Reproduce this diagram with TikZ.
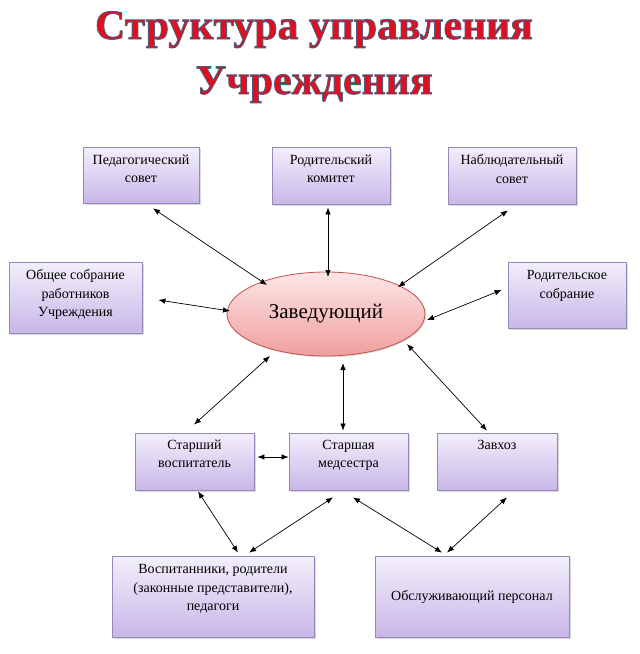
\documentclass[tikz,border=0pt]{standalone}
\usepackage{fontspec}
\setmainfont{Liberation Serif}
\usetikzlibrary{arrows.meta,shadows,shapes.geometric}
\definecolor{titred}{RGB}{226,14,30}
\definecolor{boxtop}{RGB}{243,239,251}
\definecolor{boxbot}{RGB}{200,183,232}
\definecolor{boxline}{RGB}{150,136,186}
\definecolor{elltop}{RGB}{253,230,230}
\definecolor{ellbot}{RGB}{240,158,158}
\definecolor{ellline}{RGB}{190,82,78}
\newcommand{\outlined}[1]{\special{pdf:literal direct 2 Tr 0.9 w 0.31 0.36 0.49 RG}#1\special{pdf:literal direct 0 Tr}}
\tikzset{
  box/.style={rectangle, draw=boxline, line width=0.8pt, top color=boxtop, bottom color=boxbot,
    drop shadow={shadow xshift=1.6pt, shadow yshift=-1.6pt, opacity=0.3}, inner sep=0pt},
  boss/.style={ellipse, draw=ellline, line width=0.8pt, top color=elltop, bottom color=ellbot,
    minimum width=198pt, minimum height=84pt, inner sep=0pt,
    drop shadow={shadow xshift=1.2pt, shadow yshift=-1.2pt, opacity=0.25},
    font=\fontsize{21}{24}\selectfont},
  lbl/.style={anchor=north, align=center, inner sep=0pt, font=\fontsize{14}{18.5}\selectfont},
  arr/.style={{Latex[length=7pt,width=5.5pt]}-{Latex[length=7pt,width=5.5pt]}, line width=0.7pt, black},
  ttl/.style={anchor=base, inner sep=0pt, text=titred, font=\fontsize{41.8}{48}\selectfont\bfseries}
}
\begin{document}
\begin{tikzpicture}[x=1pt,y=-1pt]
\useasboundingbox (0,0) rectangle (640,654);
% title
\node[ttl] (title1) at (314,39) {\outlined{Структура управления}};
\node[ttl] (title2) at (314,94) {\outlined{Учреждения}};

% boxes
\node[box, minimum width=116pt, minimum height=56pt] (ped)  at (141,175)   {};
\node[box, minimum width=118pt, minimum height=57pt] (rkom) at (331,175.5) {};
\node[box, minimum width=128pt, minimum height=57pt] (nabl) at (512,175.5) {};
\node[box, minimum width=133pt, minimum height=71pt] (obsh) at (75.5,297.5) {};
\node[box, minimum width=118pt, minimum height=66pt] (rsob) at (567,295)   {};
\node[boss] (zav) at (326,314) {Заведующий};
\node[box, minimum width=119pt, minimum height=57pt] (stv)  at (194.5,461.5) {};
\node[box, minimum width=119pt, minimum height=57pt] (stm)  at (348.5,461.5) {};
\node[box, minimum width=120pt, minimum height=57pt] (zavh) at (497,461.5)   {};
\node[box, minimum width=202pt, minimum height=81pt] (vosp) at (213,596.5)   {};
\node[box, minimum width=194pt, minimum height=81pt, font=\fontsize{14}{18.5}\selectfont] (obsl) at (472,596.5) {Обслуживающий персонал};

% labels
\node[lbl] (pedt)  at ([yshift=-8pt]ped.north)  {Педагогический\\совет};
\node[lbl] (rkomt) at ([yshift=-8pt]rkom.north) {Родительский\\комитет};
\node[lbl] (nablt) at ([yshift=-8pt]nabl.north) {Наблюдательный\\совет};
\node[lbl] (obsht) at ([yshift=-8pt]obsh.north) {Общее собрание\\работников\\Учреждения};
\node[lbl] (rsobt) at ([yshift=-9pt]rsob.north) {Родительское\\собрание};
\node[lbl] (stvt)  at ([yshift=-7pt]stv.north)  {Старший\\воспитатель};
\node[lbl] (stmt)  at ([yshift=-7pt]stm.north)  {Старшая\\медсестра};
\node[lbl] (zavht) at ([yshift=-7pt]zavh.north) {Завхоз};
\node[lbl] (vospt) at ([yshift=-9pt]vosp.north) {Воспитанники, родители\\(законные представители),\\педагоги};

% connectors
\draw[arr] ([shift={(12,5)}]ped.south)   -- ([shift={(-59,-29)}]zav.center);
\draw[arr] ([shift={(-3,3)}]rkom.south)  -- ([shift={(2,-37)}]zav.center);
\draw[arr] ([shift={(-4,6)}]nabl.south)  -- ([shift={(72,-27)}]zav.center);
\draw[arr] ([shift={(16,2.5)}]obsh.east) -- ([shift={(-96,-3)}]zav.center);
\draw[arr] ([shift={(-6,-5)}]rsob.west)  -- ([shift={(101,6)}]zav.center);
\draw[arr] ([shift={(-56,42)}]zav.center) -- ([shift={(-0.5,-8)}]stv.north);
\draw[arr] ([shift={(17,49)}]zav.center)  -- ([shift={(-5.5,-2)}]stm.north);
\draw[arr] ([shift={(81,30)}]zav.center)  -- ([shift={(-10,-2)}]zavh.north);
\draw[arr] ([shift={(3,-4.5)}]stv.east)   -- ([shift={(0,-4.5)}]stm.west);
\draw[arr] ([shift={(3.5,1)}]stv.south)   -- ([shift={(25,-3)}]vosp.north);
\draw[arr] ([shift={(-15.5,7)}]stm.south) -- ([shift={(36,-3)}]vosp.north);
\draw[arr] ([shift={(4.5,7)}]stm.south)   -- ([shift={(-30,-3)}]obsl.north);
\draw[arr] ([shift={(10,7)}]zavh.south)   -- ([shift={(-25,-3)}]obsl.north);
\end{tikzpicture}
\end{document}
